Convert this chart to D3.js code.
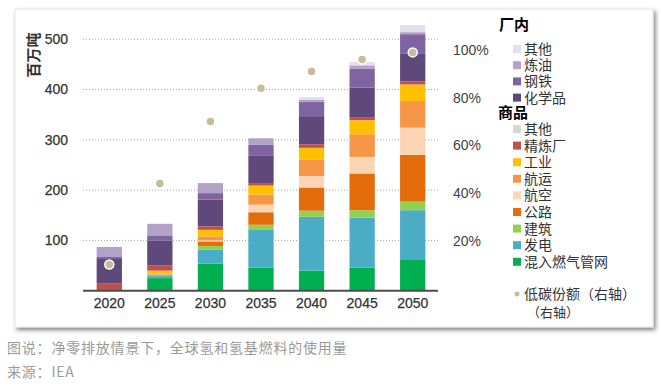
<!DOCTYPE html>
<html>
<head>
<meta charset="utf-8">
<script src="https://cdn.jsdelivr.net/npm/d3@7"></script>
<style>
  body { margin: 0; background: #fff; }
  svg text { font-family: "Liberation Sans", "Noto Sans CJK SC", sans-serif; }
</style>
</head>
<body>
<svg id="chart" width="661" height="390"></svg>
<script>
var years = ["2020", "2025", "2030", "2035", "2040", "2045", "2050"];

// stacked series, bottom to top (million tonnes)
var blending   = [0, 25, 54, 46, 40, 46, 61];
var power      = [0, 4, 28, 76, 107, 99, 99];
var buildings  = [0, 3, 7, 9, 12, 15, 17];
var road       = [0, 0, 9, 25, 46, 73, 93];
var aviation   = [0, 0, 2, 15, 23, 33, 54];
var shipping   = [0, 2, 8, 20, 33, 45, 53];
var industry   = [0, 6, 13, 18, 23, 28, 33];
var refinery   = [15, 10, 7, 5, 7, 5, 6];
var otherMerch = [0, 0, 0, 0, 0, 0, 0];
var chemicals  = [48, 50, 53, 54, 56, 60, 56];
var steel      = [4, 10, 13, 22, 28, 37, 38];
var refining   = [20, 23, 20, 13, 5, 7, 4];
var otherOnsite = [0, 0, 0, 0, 5, 7, 14];

// low-carbon share (right axis)
var lowCarbonShare = [0.10, 0.44, 0.70, 0.84, 0.91, 0.96, 0.99];

var leftTicks = [100, 200, 300, 400, 500];
var rightTicks = [0.2, 0.4, 0.6, 0.8, 1.0];

var seriesList = [
  { name: "混入燃气管网", values: blending, color: "#00b050" },
  { name: "发电", values: power, color: "#4bacc6" },
  { name: "建筑", values: buildings, color: "#92d050" },
  { name: "公路", values: road, color: "#e46c0a" },
  { name: "航空", values: aviation, color: "#fcd5b4" },
  { name: "航运", values: shipping, color: "#f79646" },
  { name: "工业", values: industry, color: "#ffc000" },
  { name: "精炼厂", values: refinery, color: "#c0504d" },
  { name: "其他", values: otherMerch, color: "#d8d9cb" },
  { name: "化学品", values: chemicals, color: "#5f497a" },
  { name: "钢铁", values: steel, color: "#8064a2" },
  { name: "炼油", values: refining, color: "#b3a2c7" },
  { name: "其他 ", values: otherOnsite, color: "#e4dfec" }
];

var svg = d3.select("#chart");

// card with shadow
var defs = svg.append("defs");
var filter = defs.append("filter").attr("id", "shadow")
  .attr("x", "-5%").attr("y", "-5%").attr("width", "110%").attr("height", "115%");
filter.append("feDropShadow")
  .attr("dx", 2).attr("dy", 2.5).attr("stdDeviation", 2)
  .attr("flood-color", "#000").attr("flood-opacity", 0.5);

svg.append("rect")
  .attr("x", 15).attr("y", 9)
  .attr("width", 638).attr("height", 318)
  .attr("fill", "#fff")
  .attr("stroke", "#e6e6e6")
  .attr("filter", "url(#shadow)");

var x = d3.scaleBand()
  .domain(years)
  .range([84, 438])
  .paddingInner(0.5)
  .paddingOuter(0.25);

var y = d3.scaleLinear().domain([0, 500]).range([290.7, 39.2]);
var yRight = d3.scaleLinear().domain([0, 1]).range([288.4, 50]);

// gridlines
svg.append("g").selectAll("line")
  .data(leftTicks)
  .enter()
  .append("line")
  .attr("x1", 83).attr("x2", 438)
  .attr("y1", function(d) { return y(d); })
  .attr("y2", function(d) { return y(d); })
  .attr("stroke", "#a6a6a6")
  .attr("stroke-width", 1)
  .attr("stroke-dasharray", "1,2");

// stacked bars
var table = years.map(function(yr, i) {
  var row = { year: yr };
  seriesList.forEach(function(s) { row[s.name] = s.values[i]; });
  return row;
});
var stack = d3.stack().keys(seriesList.map(function(s) { return s.name; }));
var stacked = stack(table);

var layers = svg.append("g").selectAll("g")
  .data(stacked)
  .enter()
  .append("g")
  .attr("fill", function(d, i) { return seriesList[i].color; });

layers.selectAll("rect")
  .data(function(d) { return d; })
  .enter()
  .append("rect")
  .attr("x", function(d) { return x(d.data.year); })
  .attr("width", x.bandwidth())
  .attr("y", function(d) { return y(d[1]); })
  .attr("height", function(d) { return Math.max(0, y(d[0]) - y(d[1])); });

// baseline
svg.append("line")
  .attr("x1", 83).attr("x2", 438)
  .attr("y1", y(0)).attr("y2", y(0))
  .attr("stroke", "#4d4d4d")
  .attr("stroke-width", 2);

// low carbon share dots
svg.append("g").selectAll("circle")
  .data(lowCarbonShare)
  .enter()
  .append("circle")
  .attr("cx", function(d, i) { return x(years[i]) + x.bandwidth() / 2; })
  .attr("cy", function(d) { return yRight(d); })
  .attr("r", 4.5)
  .attr("fill", "#c4bd97")
  .attr("stroke", "#fff")
  .attr("stroke-width", 1.5);

// left axis
var leftAxis = d3.axisLeft(y).tickValues(leftTicks).tickSize(0).tickPadding(0);
var gl = svg.append("g")
  .attr("transform", "translate(68,0)")
  .call(leftAxis);
gl.select(".domain").remove();
gl.selectAll("text")
  .attr("font-size", 14)
  .attr("fill", "#333")
  .attr("stroke", "#333")
  .attr("stroke-width", 0.25)
  .attr("font-family", "Liberation Sans, sans-serif");

// right axis
var rightAxis = d3.axisRight(yRight).tickValues(rightTicks).tickSize(0).tickPadding(0)
  .tickFormat(d3.format(".0%"));
var gr = svg.append("g")
  .attr("transform", "translate(453,0)")
  .call(rightAxis);
gr.select(".domain").remove();
gr.selectAll("text")
  .attr("font-size", 14)
  .attr("fill", "#3f3f3f")
  .attr("font-family", "Liberation Sans, sans-serif");

// x axis
var xAxis = d3.axisBottom(x).tickSize(0).tickPadding(0);
var gx = svg.append("g")
  .attr("transform", "translate(0,298)")
  .call(xAxis);
gx.select(".domain").remove();
gx.selectAll("text")
  .attr("font-size", 14)
  .attr("fill", "#333")
  .attr("stroke", "#333")
  .attr("stroke-width", 0.25)
  .attr("font-family", "Liberation Sans, sans-serif");

// y axis title
svg.append("text")
  .attr("transform", "translate(39,55) rotate(-90)")
  .attr("text-anchor", "middle")
  .attr("font-size", 15)
  .attr("font-weight", "bold")
  .attr("fill", "#333")
  .style("font-family", "Noto Sans CJK SC")
  .text("百万吨");

// legend
var legend = svg.append("g").style("font-family", "Noto Sans CJK SC");

legend.append("text")
  .attr("x", 514).attr("y", 25)
  .attr("dy", "0.35em")
  .attr("text-anchor", "middle")
  .attr("font-size", 15)
  .attr("font-weight", "bold")
  .attr("fill", "#000")
  .text("厂内");

legend.append("text")
  .attr("x", 513).attr("y", 113)
  .attr("dy", "0.35em")
  .attr("text-anchor", "middle")
  .attr("font-size", 15)
  .attr("font-weight", "bold")
  .attr("fill", "#000")
  .text("商品");

var onsiteItems = seriesList.slice(9).reverse();
var merchItems = seriesList.slice(0, 9).reverse();

function drawItems(items, startY, step) {
  var g = legend.append("g");
  var it = g.selectAll("g")
    .data(items)
    .enter()
    .append("g")
    .attr("transform", function(d, i) { return "translate(513," + (startY + i * step) + ")"; });
  it.append("rect")
    .attr("x", 0).attr("y", -4)
    .attr("width", 8).attr("height", 8)
    .attr("fill", function(d) { return d.color; });
  it.append("text")
    .attr("x", 11)
    .attr("dy", "0.35em")
    .attr("font-size", 14)
    .attr("fill", "#333")
    .text(function(d) { return d.name.trim(); });
}
drawItems(onsiteItems, 49, 16.2);
drawItems(merchItems, 129, 16.6);

legend.append("circle")
  .attr("cx", 517).attr("cy", 294)
  .attr("r", 2.5)
  .attr("fill", "#c4bd97");
legend.append("text")
  .attr("x", 524).attr("y", 294)
  .attr("dy", "0.35em")
  .attr("font-size", 14)
  .attr("fill", "#333")
  .text("低碳份额（右轴）");
legend.append("text")
  .attr("x", 527).attr("y", 312)
  .attr("dy", "0.35em")
  .attr("font-size", 13)
  .attr("fill", "#333")
  .text("（右轴）");

// caption
svg.append("text")
  .attr("x", 7).attr("y", 348)
  .attr("dy", "0.35em")
  .attr("font-size", 14)
  .attr("letter-spacing", 0.8)
  .attr("fill", "#9a9a9a")
  .style("font-family", "Noto Sans CJK SC")
  .text("图说：净零排放情景下，全球氢和氢基燃料的使用量");

svg.append("text")
  .attr("x", 7).attr("y", 372)
  .attr("dy", "0.35em")
  .attr("font-size", 14)
  .attr("letter-spacing", 0.8)
  .attr("fill", "#9a9a9a")
  .style("font-family", "Noto Sans CJK SC")
  .text("来源：IEA");
</script>
</body>
</html>
